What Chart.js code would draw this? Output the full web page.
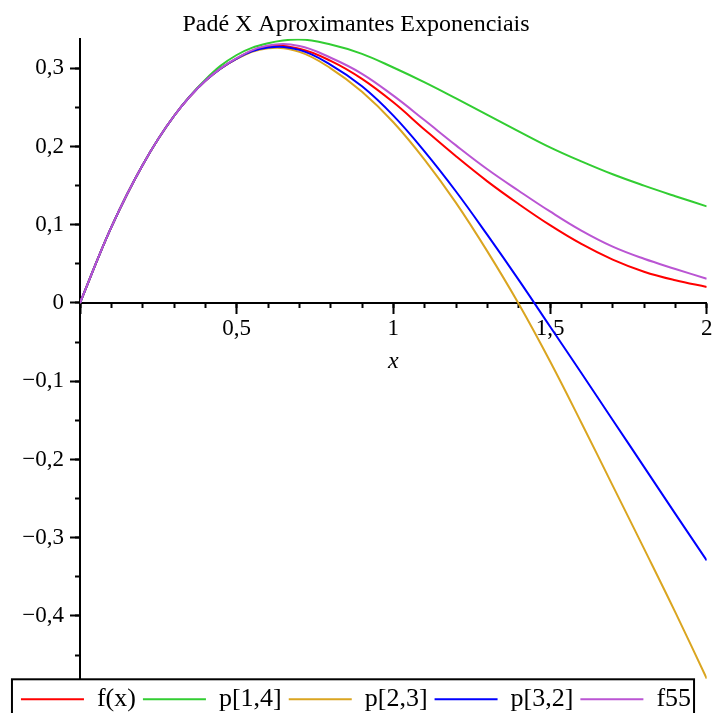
<!DOCTYPE html>
<html>
<head>
<meta charset="utf-8">
<script src="https://cdn.jsdelivr.net/npm/chart.js@4/dist/chart.umd.min.js"></script>
<style>
  html, body { margin: 0; padding: 0; background: #fff; }
  canvas { display: block; }
</style>
</head>
<body>
<canvas id="chart" width="712" height="713"></canvas>
<script>
// valeurs
const xValues = [0, 0.1, 0.2, 0.3, 0.4, 0.5, 0.6, 0.7, 0.8, 0.9, 1.0,
                 1.1, 1.2, 1.3, 1.4, 1.5, 1.6, 1.7, 1.8, 1.9, 2.0];
const fx  = [0, 0.097, 0.1765, 0.239, 0.284, 0.3125, 0.3275, 0.325, 0.3095, 0.2865, 0.2565,
             0.2215, 0.1875, 0.1555, 0.1265, 0.0995, 0.0755, 0.0555, 0.040, 0.029, 0.0205];
const p14 = [0, 0.097, 0.1765, 0.239, 0.2855, 0.317, 0.332, 0.3368, 0.3305, 0.3185, 0.301,
             0.282, 0.2615, 0.2405, 0.2195, 0.199, 0.181, 0.1645, 0.150, 0.1365, 0.1235];
const p23 = [0, 0.097, 0.1765, 0.239, 0.284, 0.312, 0.3255, 0.321, 0.300, 0.270, 0.231,
             0.183, 0.128, 0.066, -0.001, -0.0745, -0.153, -0.2335, -0.314, -0.3955, -0.480];
const p32 = [0, 0.097, 0.1765, 0.239, 0.284, 0.3125, 0.3265, 0.3235, 0.3045, 0.277, 0.2395,
             0.1935, 0.1425, 0.087, 0.0295, -0.030, -0.0895, -0.1495, -0.2095, -0.2695, -0.329];
const f55 = [0, 0.097, 0.1765, 0.239, 0.284, 0.313, 0.329, 0.3285, 0.3135, 0.293, 0.265,
             0.2335, 0.2015, 0.171, 0.1435, 0.117, 0.0925, 0.072, 0.0565, 0.0435, 0.031];
const seriesLabels = ['f(x)', 'p[1,4]', 'p[2,3]', 'p[3,2]', 'f55'];
const seriesColors = ['#ff0000', '#32cd32', '#daa520', '#0000ff', '#ba55d3'];
const xMajorTicks = [0.5, 1, 1.5, 2];

const serif = 'Liberation Serif, Times New Roman, serif';
const pts = ys => xValues.map((x, i) => ({ x: x, y: ys[i] }));
const fmt = v => {
    const r = Math.round(v * 10) / 10;
    const s = Math.abs(r).toString().replace('.', ',');
    return r < 0 ? '\u2212' + s : s;
};

// cadre autour de la légende
const legendBox = {
    id: 'legendBox',
    afterDraw(chart) {
        const lg = chart.legend, hb = lg.legendHitBoxes;
        if (!hb || !hb.length) return;
        const last = hb[hb.length - 1];
        const l = hb[0].left - 9, r = last.left + last.width + 3;
        const ctx = chart.ctx;
        ctx.save();
        ctx.strokeStyle = '#000';
        ctx.lineWidth = 2;
        ctx.strokeRect(l, lg.top, r - l, lg.height + 30);
        ctx.restore();
    }
};

const allSeries = [fx, p14, p23, p32, f55];

new Chart(document.getElementById('chart'), {
    type: 'line',
    data: {
        datasets: allSeries.map((s, i) => ({
            label: seriesLabels[i],
            data: pts(s),
            borderColor: seriesColors[i],
            backgroundColor: seriesColors[i],
            borderWidth: 2,
            pointRadius: 0,
            tension: 0.4,
            fill: false,
            order: allSeries.length - i
        }))
    },
    options: {
        responsive: false,
        animation: false,
        layout: { padding: { left: 0, right: 0, top: 0, bottom: -9.3 } },
        plugins: {
            title: {
                display: true,
                text: 'Padé X Aproximantes Exponenciais',
                color: '#000',
                font: { family: serif, size: 24, weight: 'normal' },
                padding: { top: 10, bottom: 0 }
            },
            legend: {
                position: 'bottom',
                labels: {
                    usePointStyle: true,
                    pointStyle: 'line',
                    pointStyleWidth: 63,
                    padding: 7,
                    color: '#000',
                    font: { family: serif, size: 26 },
                    sort: (a, b) => a.datasetIndex - b.datasetIndex
                }
            },
            tooltip: { enabled: false }
        },
        scales: {
            x: {
                type: 'linear',
                position: { y: 0 },
                min: 0, max: 2,
                afterFit: s => { s.paddingLeft = 0; s.paddingRight = 5.3; },
                ticks: {
                    stepSize: 0.5,
                    autoSkip: false,
                    maxRotation: 0,
                    padding: 2,
                    color: '#000',
                    font: { family: serif, size: 23 },
                    callback: v => xMajorTicks.includes(v) ? fmt(v) : ''
                },
                grid: { drawOnChartArea: false, tickLength: 10, tickWidth: 2, tickColor: '#000' },
                border: { color: '#000', width: 2 },
                title: {
                    display: true,
                    text: 'x',
                    color: '#000',
                    font: { family: serif, size: 24, style: 'italic' },
                    padding: { top: 3, bottom: 0 }
                }
            },
            xMinor: {
                type: 'linear',
                axis: 'x',
                position: { y: 0 },
                min: 0, max: 2,
                afterFit: s => { s.paddingLeft = 0; s.paddingRight = 0; },
                ticks: { stepSize: 0.1, autoSkip: false, display: false },
                grid: { drawOnChartArea: false, tickLength: 5, tickWidth: 2, tickColor: '#000' },
                border: { display: false }
            },
            y: {
                type: 'linear',
                position: 'left',
                min: -0.481, max: 0.3377,
                afterFit: s => { s.width = 80; },
                ticks: {
                    stepSize: 0.1,
                    includeBounds: false,
                    autoSkip: false,
                    padding: 6,
                    color: '#000',
                    font: { family: serif, size: 23 },
                    callback: v => fmt(v)
                },
                grid: { drawOnChartArea: false, tickLength: 10, tickWidth: 2, tickColor: '#000' },
                border: { color: '#000', width: 2 }
            },
            yMinor: {
                type: 'linear',
                axis: 'y',
                position: { x: 0 },
                min: -0.481, max: 0.3377,
                ticks: { stepSize: 0.05, includeBounds: false, autoSkip: false, display: false },
                grid: { drawOnChartArea: false, tickLength: 5, tickWidth: 2, tickColor: '#000' },
                border: { display: false }
            }
        }
    },
    plugins: [legendBox]
});
</script>
</body>
</html>
